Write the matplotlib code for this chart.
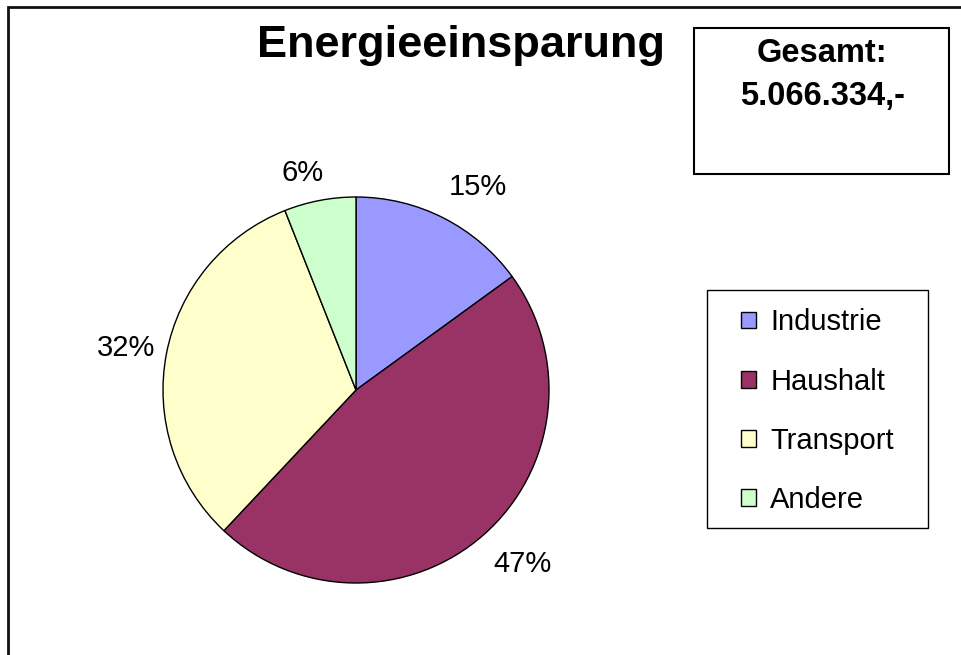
import numpy as np
import matplotlib
matplotlib.use("Agg")
import matplotlib.pyplot as plt
from matplotlib.patches import Rectangle

plt.rcParams['font.family'] = ['Liberation Sans', 'DejaVu Sans']

categories = ["Industrie", "Haushalt", "Transport", "Andere"]
shares = [15, 47, 32, 6]
colors = ["#9999FF", "#993366", "#FFFFCC", "#CCFFCC"]
title = "Energieeinsparung"
total_lines = ["Gesamt:", "5.066.334,-"]

# label placement tweaks (radius factor, angle nudge in degrees)
label_dist = [1.23, 1.25, 1.21, 1.16]
label_nudge = [-4, 2.3, 0.4, 3.1]

W, H = 962, 655
fig = plt.figure(figsize=(W / 100, H / 100), dpi=100)
ax = fig.add_axes([0, 0, 1, 1])

# outer chart border (only top/left visible)
ax.add_patch(Rectangle((8, -50), 1100, H - 7 + 50, fill=False, lw=2, ec="#111111"))

cx, cy, r = 356, H - 390, 193
wedges, texts, autotexts = ax.pie(
    shares, colors=colors, startangle=90, counterclock=False,
    center=(cx, cy), radius=r, frame=True,
    autopct="%1.0f%%", pctdistance=1.23,
    wedgeprops=dict(edgecolor="black", linewidth=1),
    textprops=dict(fontsize=21, color="black"))
for w, t, d, n in zip(wedges, autotexts, label_dist, label_nudge):
    a = np.deg2rad((w.theta1 + w.theta2) / 2 + n)
    t.set_position((cx + d * r * np.cos(a), cy + d * r * np.sin(a)))

ax.set_xlim(0, W)
ax.set_ylim(0, H)
ax.set_aspect("equal")
ax.axis("off")

ax.text(461, H - 45, title, fontsize=32.5, fontweight="bold", ha="center", va="center")

# total box
ax.add_patch(Rectangle((694, H - 174), 255, 146, fill=False, lw=1.5, ec="black"))
ax.text(822, H - 53, total_lines[0], fontsize=23.5, fontweight="bold", ha="center", va="center")
ax.text(822, H - 97, total_lines[1], fontsize=23.5, fontweight="bold", ha="center", va="center")

# legend box
ax.add_patch(Rectangle((707, H - 528), 221, 238, fill=False, lw=1, ec="black"))
leg = ax.legend(wedges, categories, loc="upper left",
                bbox_to_anchor=(741, H - 308.5), bbox_transform=ax.transData,
                fontsize=21, frameon=False,
                handlelength=0.5, handleheight=0.5, handletextpad=0.5,
                labelspacing=1.07, borderpad=0, borderaxespad=0)
for h in leg.legend_handles:
    h.set_linewidth(1)

fig.savefig("out.png", dpi=100)
